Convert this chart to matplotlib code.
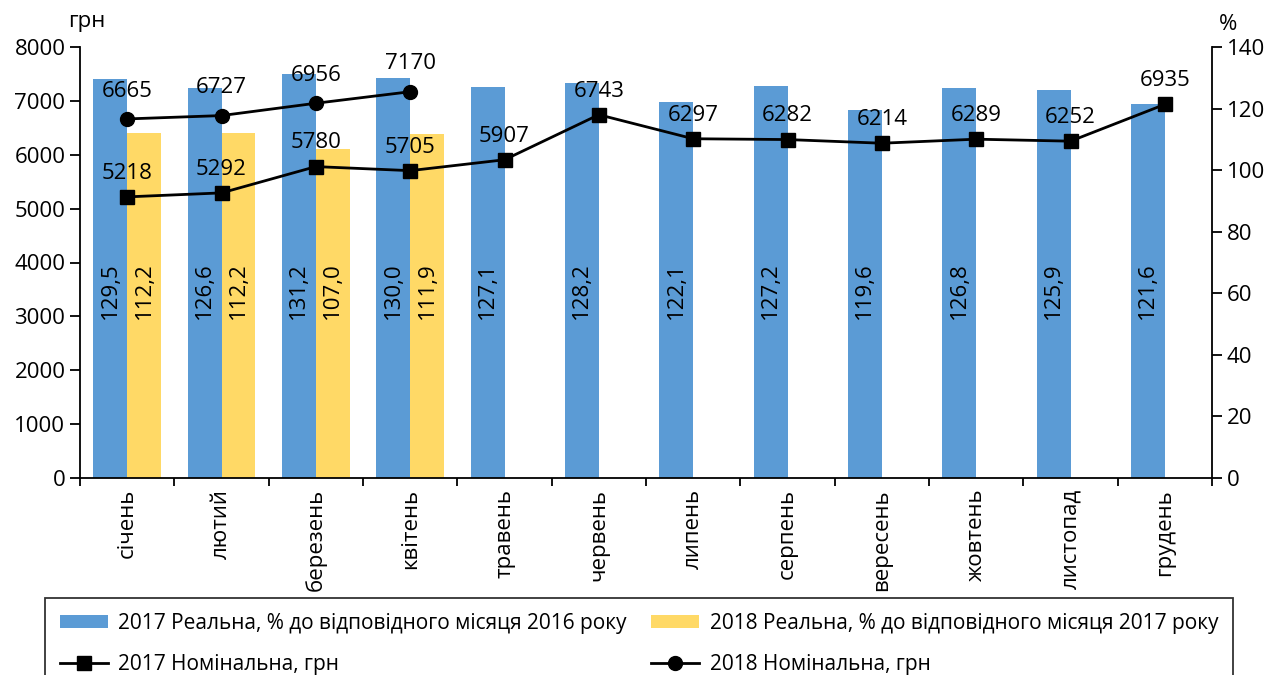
import matplotlib
matplotlib.use("Agg")
import matplotlib.pyplot as plt
import numpy as np

plt.rcParams['font.family'] = ['Open Sans', 'DejaVu Sans']

months = ["січень", "лютий", "березень", "квітень", "травень", "червень",
          "липень", "серпень", "вересень", "жовтень", "листопад", "грудень"]
real_2017 = [129.5, 126.6, 131.2, 130.0, 127.1, 128.2, 122.1, 127.2, 119.6, 126.8, 125.9, 121.6]
real_2018 = [112.2, 112.2, 107.0, 111.9]
nom_2017 = [5218, 5292, 5780, 5705, 5907, 6743, 6297, 6282, 6214, 6289, 6252, 6935]
nom_2018 = [6665, 6727, 6956, 7170]

lab_real_2017 = "2017 Реальна, % до відповідного місяця 2016 року"
lab_real_2018 = "2018 Реальна, % до відповідного місяця 2017 року"
lab_nom_2017 = "2017 Номінальна, грн"
lab_nom_2018 = "2018 Номінальна, грн"

blue = "#5B9BD5"
yellow = "#FFD966"
FS = 16

fig = plt.figure(figsize=(12.77, 6.75), dpi=100)
ax = fig.add_axes([80/1277, 1-478/675, (1212-80)/1277, (478-47)/675])
ax2 = ax.twinx()

x = np.arange(len(months))
w = 0.36

b17 = ax2.bar(x - w/2, real_2017, width=w, color=blue, zorder=1)
b18 = ax2.bar(np.arange(len(real_2018)) + w/2, real_2018, width=w, color=yellow, zorder=1)

for xi, v in zip(x, real_2017):
    ax2.text(xi - w/2, 61, f"{v:.1f}".replace(".", ","), rotation=90,
             ha="center", va="center", fontsize=FS)
for xi, v in zip(np.arange(len(real_2018)), real_2018):
    ax2.text(xi + w/2, 61, f"{v:.1f}".replace(".", ","), rotation=90,
             ha="center", va="center", fontsize=FS)

ax.set_zorder(ax2.get_zorder() + 1)
ax.patch.set_visible(False)

l17, = ax.plot(x, nom_2017, color="black", lw=2, marker="s", markersize=10, zorder=3)
l18, = ax.plot(np.arange(len(nom_2018)), nom_2018, color="black", lw=2, marker="o",
               markersize=10, zorder=3)

for xi, v in zip(x, nom_2017):
    ax.annotate(str(v), (xi, v), xytext=(0, 17), textcoords="offset points",
                ha="center", va="center", fontsize=FS)
for xi, v in zip(np.arange(len(nom_2018)), nom_2018):
    ax.annotate(str(v), (xi, v), xytext=(0, 20), textcoords="offset points",
                ha="center", va="center", fontsize=FS)

ax.set_xlim(-0.5, len(months) - 0.5)
ax.set_ylim(0, 8000)
ax2.set_ylim(0, 140)
ax.set_yticks(np.arange(0, 8001, 1000))
ax2.set_yticks(np.arange(0, 141, 20))

ax.set_xticks(x)
ax.set_xticklabels(months, rotation=90, fontsize=FS)
ax.tick_params(axis="x", length=0, pad=8)
ax.set_xticks(np.arange(-0.5, len(months)), minor=True)
ax.tick_params(axis="x", which="minor", length=6, width=1.3, direction="out")

ax.tick_params(axis="y", labelsize=FS, length=7, width=1.3, direction="out")
ax2.tick_params(axis="y", labelsize=FS, length=7, width=1.3, direction="out")

for a in (ax, ax2):
    a.spines["top"].set_visible(False)
    for s in ("left", "right", "bottom"):
        a.spines[s].set_linewidth(1.3)
ax2.spines["left"].set_visible(False)
ax.spines["right"].set_visible(False)
ax2.spines["bottom"].set_visible(False)

fig.text(68/1277, 1-22/675, "грн", fontsize=FS, ha="left", va="center")
fig.text(1228/1277, 1-25/675, "%", fontsize=FS, ha="center", va="center")

leg = fig.legend([b17, l17, b18, l18],
                 [lab_real_2017, lab_nom_2017, lab_real_2018, lab_nom_2018],
                 ncol=2, loc="upper left", bbox_to_anchor=(45/1277, 1-598/675),
                 frameon=True, fancybox=False, fontsize=15, handlelength=2.3,
                 handletextpad=0.5, handleheight=0.6,
                 columnspacing=1.2, labelspacing=1.0, borderpad=0.7,
                 borderaxespad=0)
leg.get_frame().set_edgecolor("black")
leg.get_frame().set_linewidth(1.3)

fig.savefig("out.png", dpi=100)
